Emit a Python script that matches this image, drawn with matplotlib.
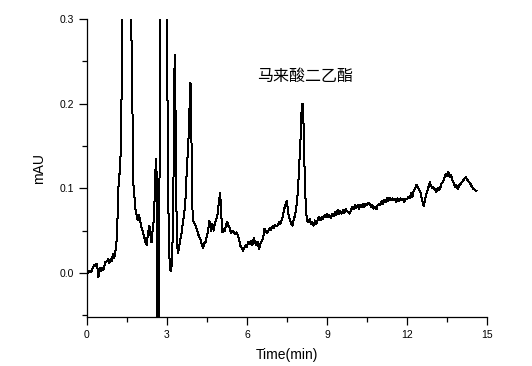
import matplotlib
matplotlib.use("Agg")
import matplotlib.pyplot as plt
from matplotlib.ticker import MultipleLocator, FixedLocator

time_min = [
    0.00, 0.02, 0.08, 0.15, 0.22, 0.28, 0.33, 0.36, 0.40, 0.43, 0.47, 0.52, 0.58, 0.63,
    0.68, 0.75, 0.80, 0.84, 0.88, 0.93, 0.97, 1.02, 1.06, 1.10, 1.14, 1.17, 1.20, 1.23,
    1.26, 1.28, 1.30, 1.33, 1.40, 1.50, 1.60, 1.66, 1.69, 1.72, 1.75, 1.78, 1.82, 1.86,
    1.90, 1.95, 1.99, 2.03, 2.08, 2.12, 2.17, 2.20, 2.24, 2.28, 2.33, 2.36, 2.39, 2.42,
    2.46, 2.50, 2.54, 2.57, 2.60, 2.615, 2.62, 2.705, 2.71, 2.73, 2.76, 2.85, 2.95, 2.99,
    3.02, 3.05, 3.09, 3.13, 3.16, 3.19, 3.22, 3.25, 3.28, 3.30, 3.32, 3.35, 3.38, 3.41,
    3.45, 3.50, 3.55, 3.60, 3.65, 3.69, 3.73, 3.76, 3.79, 3.82, 3.85, 3.88, 3.90, 3.93,
    3.96, 4.00, 4.05, 4.10, 4.15, 4.20, 4.25, 4.30, 4.35, 4.40, 4.45, 4.50, 4.55, 4.59,
    4.62, 4.66, 4.70, 4.75, 4.80, 4.85, 4.90, 4.95, 4.99, 5.02, 5.05, 5.08, 5.12, 5.17,
    5.22, 5.26, 5.30, 5.35, 5.40, 5.45, 5.50, 5.55, 5.60, 5.65, 5.70, 5.75, 5.80, 5.85,
    5.90, 5.95, 6.00, 6.05, 6.10, 6.15, 6.20, 6.25, 6.30, 6.35, 6.40, 6.45, 6.50, 6.55,
    6.60, 6.65, 6.70, 6.75, 6.80, 6.85, 6.90, 6.95, 7.00, 7.05, 7.10, 7.15, 7.20, 7.25,
    7.30, 7.35, 7.40, 7.45, 7.49, 7.53, 7.57, 7.62, 7.67, 7.71, 7.75, 7.80, 7.85, 7.89,
    7.93, 7.97, 8.01, 8.05, 8.08, 8.10, 8.13, 8.16, 8.19, 8.22, 8.25, 8.30, 8.35, 8.40,
    8.45, 8.50, 8.55, 8.60, 8.65, 8.70, 8.75, 8.80, 8.85, 8.90, 8.95, 9.00, 9.05, 9.10,
    9.15, 9.20, 9.25, 9.30, 9.35, 9.40, 9.45, 9.50, 9.55, 9.60, 9.65, 9.70, 9.75, 9.80,
    9.85, 9.90, 9.95, 10.00, 10.05, 10.10, 10.15, 10.20, 10.25, 10.30, 10.35, 10.40,
    10.45, 10.50, 10.55, 10.60, 10.65, 10.70, 10.75, 10.80, 10.85, 10.90, 10.95, 11.00,
    11.05, 11.10, 11.15, 11.20, 11.25, 11.30, 11.35, 11.40, 11.45, 11.50, 11.55, 11.60,
    11.65, 11.70, 11.75, 11.80, 11.85, 11.90, 11.95, 12.00, 12.05, 12.10, 12.15, 12.20,
    12.25, 12.30, 12.35, 12.40, 12.45, 12.50, 12.55, 12.60, 12.63, 12.67, 12.72, 12.77,
    12.82, 12.86, 12.90, 12.95, 13.00, 13.05, 13.10, 13.15, 13.20, 13.25, 13.30, 13.35,
    13.40, 13.45, 13.50, 13.55, 13.60, 13.65, 13.70, 13.75, 13.80, 13.85, 13.90, 13.95,
    14.00, 14.05, 14.10, 14.15, 14.20, 14.25, 14.30, 14.35, 14.40, 14.45, 14.50, 14.55,
    14.60,
]

absorbance_mau = [
    -0.013, 0.000, 0.002, 0.001, 0.006, 0.010, 0.008, 0.011, 0.004, -0.005, 0.006, 0.002, 0.006, 0.004,
    0.013, 0.014, 0.017, 0.012, 0.016, 0.014, 0.022, 0.018, 0.024, 0.033, 0.060, 0.095, 0.115, 0.118,
    0.140, 0.150, 0.230, 0.320, 0.500, 0.550, 0.400, 0.285, 0.250, 0.136, 0.095, 0.090, 0.075, 0.068,
    0.062, 0.068, 0.062, 0.055, 0.050, 0.045, 0.040, 0.035, 0.033, 0.045, 0.055, 0.054, 0.040, 0.036,
    0.050, 0.062, 0.090, 0.124, 0.135, 0.100, -0.200, -0.200, 0.050, 0.190, 0.350, 0.600, 0.400, 0.280,
    0.200, 0.080, 0.018, 0.003, 0.002, 0.020, 0.050, 0.130, 0.240, 0.258, 0.190, 0.083, 0.035, 0.023,
    0.030, 0.040, 0.048, 0.060, 0.072, 0.085, 0.115, 0.135, 0.140, 0.175, 0.200, 0.225, 0.210, 0.120,
    0.068, 0.060, 0.058, 0.053, 0.048, 0.043, 0.040, 0.034, 0.029, 0.035, 0.037, 0.044, 0.052, 0.062,
    0.055, 0.050, 0.058, 0.050, 0.060, 0.063, 0.070, 0.085, 0.094, 0.080, 0.060, 0.048, 0.052, 0.050,
    0.058, 0.060, 0.056, 0.053, 0.047, 0.050, 0.048, 0.046, 0.048, 0.045, 0.040, 0.032, 0.030, 0.026,
    0.030, 0.033, 0.031, 0.037, 0.034, 0.038, 0.033, 0.041, 0.036, 0.033, 0.037, 0.028, 0.034, 0.038,
    0.040, 0.052, 0.050, 0.047, 0.050, 0.053, 0.051, 0.055, 0.053, 0.057, 0.055, 0.056, 0.060, 0.058,
    0.062, 0.068, 0.076, 0.082, 0.085, 0.075, 0.066, 0.062, 0.057, 0.056, 0.063, 0.068, 0.078, 0.090,
    0.110, 0.135, 0.160, 0.195, 0.200, 0.195, 0.165, 0.120, 0.090, 0.072, 0.062, 0.060, 0.064, 0.058,
    0.060, 0.056, 0.062, 0.058, 0.063, 0.066, 0.062, 0.066, 0.064, 0.068, 0.066, 0.070, 0.066, 0.068,
    0.065, 0.070, 0.067, 0.072, 0.068, 0.075, 0.070, 0.073, 0.070, 0.074, 0.071, 0.076, 0.073, 0.072,
    0.070, 0.074, 0.078, 0.075, 0.080, 0.077, 0.080, 0.076, 0.080, 0.078, 0.082, 0.078,
    0.082, 0.080, 0.083, 0.082, 0.078, 0.080, 0.076, 0.078, 0.075, 0.080, 0.082, 0.080,
    0.085, 0.082, 0.086, 0.084, 0.088, 0.085, 0.089, 0.086, 0.088, 0.086, 0.087, 0.084,
    0.088, 0.085, 0.088, 0.086, 0.087, 0.084, 0.088, 0.087, 0.090, 0.088, 0.094, 0.090,
    0.097, 0.099, 0.104, 0.102, 0.098, 0.096, 0.088, 0.082, 0.079, 0.086, 0.093, 0.098,
    0.103, 0.107, 0.103, 0.100, 0.101, 0.098, 0.096, 0.100, 0.098, 0.101, 0.106, 0.108,
    0.112, 0.117, 0.114, 0.119, 0.113, 0.116, 0.110, 0.106, 0.102, 0.104, 0.099, 0.103,
    0.105, 0.107, 0.109, 0.111, 0.113, 0.111, 0.108, 0.107, 0.104, 0.101, 0.099, 0.098,
    0.097,
]

x_ticks = [0, 3, 6, 9, 12, 15]
y_ticks = [0.0, 0.1, 0.2, 0.3]
annotation = "马来酸二乙酯"

fig = plt.figure(figsize=(5.32, 3.66), dpi=100)
ax = fig.add_axes([87/532, 1-317/366, 400/532, 298/366])

ax.plot(time_min, absorbance_mau, color="black", linewidth=0.72, antialiased=False)

ax.set_xlim(0, 15)
ax.set_ylim(-0.052, 0.3)
ax.xaxis.set_major_locator(FixedLocator(x_ticks))
ax.xaxis.set_minor_locator(MultipleLocator(1.5))
ax.yaxis.set_major_locator(FixedLocator(y_ticks))
ax.yaxis.set_minor_locator(FixedLocator([-0.05, 0.05, 0.15, 0.25]))
ax.set_yticklabels([f"{v:.1f}" for v in y_ticks])
ax.set_xticklabels([str(v) for v in x_ticks])

for s in ["top", "right"]:
    ax.spines[s].set_visible(False)
for s in ["left", "bottom"]:
    ax.spines[s].set_linewidth(0.9)

ax.tick_params(which="major", direction="out", length=6, width=0.9,
               labelsize=7.5, pad=3)
ax.tick_params(which="minor", direction="out", length=3.5, width=0.9)
for lab in ax.get_xticklabels() + ax.get_yticklabels():
    lab.set_fontfamily("Liberation Sans")

ax.set_xlabel("Time(min)", fontsize=10, family="Liberation Sans", labelpad=6)
ax.set_ylabel("mAU", fontsize=10, family="Liberation Sans", labelpad=10)

ax.text(6.36, 0.232, annotation, fontsize=11.5, va="center", ha="left",
        family=["Noto Sans CJK SC", "DejaVu Sans"])

fig.savefig("out.png", dpi=100)
